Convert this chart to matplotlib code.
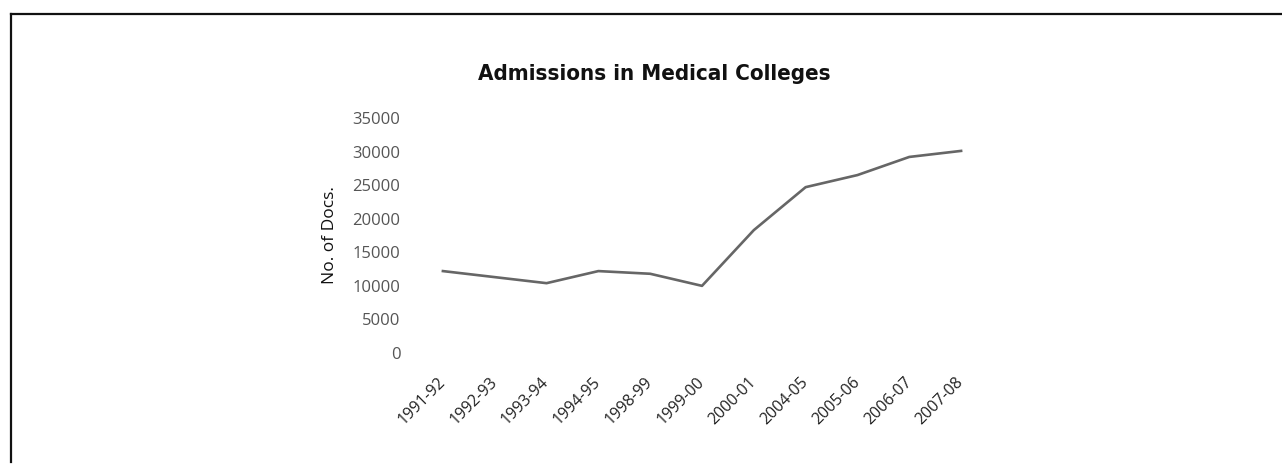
import matplotlib
matplotlib.use("Agg")
import matplotlib.pyplot as plt
from matplotlib.lines import Line2D

categories = ["1991-92", "1992-93", "1993-94", "1994-95", "1998-99", "1999-00",
              "2000-01", "2004-05", "2005-06", "2006-07", "2007-08"]
admissions = [12200, 11300, 10400, 12200, 11800, 10000, 18300, 24700, 26500, 29200, 30100]
y_ticks = [0, 5000, 10000, 15000, 20000, 25000, 30000, 35000]

W, H = 1282, 468
fig = plt.figure(figsize=(W / 100, H / 100), dpi=100)

ax = fig.add_axes([417 / W, 1 - 353 / H, (987 - 417) / W, (353 - 118) / H])
x = list(range(len(categories)))
ax.plot(x, admissions, color="#666666", lw=1.9, solid_joinstyle="round")
ax.set_xlim(-0.5, len(categories) - 0.5)
ax.set_ylim(0, 35000)
ax.set_yticks(y_ticks)
ax.set_yticklabels([str(v) for v in y_ticks], fontsize=12, color="#555555", family="Open Sans")
ax.set_xticks(x)
ax.set_xticklabels(categories, rotation=45, ha="right", va="center", rotation_mode="anchor",
                   fontsize=11.5, color="#222222", family="Open Sans")
ax.tick_params(axis="both", length=0)
ax.tick_params(axis="x", pad=19)
ax.tick_params(axis="y", pad=12)
for s in ax.spines.values():
    s.set_visible(False)
ax.set_ylabel("No. of Docs.", fontsize=12.5, color="#111111", family="Open Sans", labelpad=10)

fig.text(654 / W, 1 - 74 / H, "Admissions in Medical Colleges", ha="center", va="center",
         fontsize=16, fontweight="bold", family="DejaVu Sans", fontstretch="condensed",
         color="#111111")

# outer frame (top and left edges)
fig.add_artist(Line2D([11 / W, 1.0], [1 - 14 / H, 1 - 14 / H], transform=fig.transFigure,
                      color="#111111", lw=1.6))
fig.add_artist(Line2D([11 / W, 11 / W], [1 - 14 / H, 1 - 462 / H], transform=fig.transFigure,
                      color="#111111", lw=1.6))

fig.savefig("out.png", dpi=100)
